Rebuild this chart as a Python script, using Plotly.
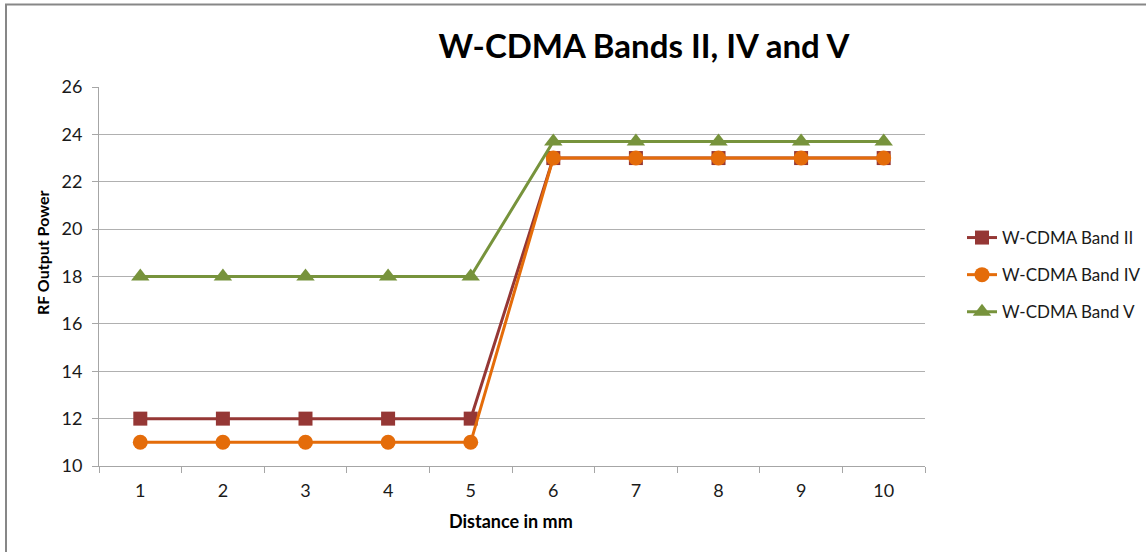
import plotly.graph_objects as go

distance = ["1", "2", "3", "4", "5", "6", "7", "8", "9", "10"]
band_ii = [12, 12, 12, 12, 12, 23, 23, 23, 23, 23]
band_iv = [11, 11, 11, 11, 11, 23, 23, 23, 23, 23]
band_v = [18, 18, 18, 18, 18, 23.7, 23.7, 23.7, 23.7, 23.7]
y_ticks = [10, 12, 14, 16, 18, 20, 22, 24, 26]

FONT = "Lato, Calibri, 'Open Sans', sans-serif"

fig = go.Figure()
fig.add_trace(go.Scatter(
    x=distance, y=band_ii, name="W-CDMA Band II", mode="lines+markers",
    line=dict(color="#953735", width=3),
    marker=dict(symbol="square", size=14, color="#953735"),
    legendgroup="a"))
fig.add_trace(go.Scatter(
    x=distance, y=band_iv, name="W-CDMA Band IV", mode="lines+markers",
    line=dict(color="#E46C0A", width=3),
    marker=dict(symbol="circle", size=15, color="#E46C0A"),
    legendgroup="b"))
fig.add_trace(go.Scatter(
    x=distance, y=band_v, name="W-CDMA Band V", mode="lines+markers",
    line=dict(color="#77933C", width=3),
    marker=dict(symbol="triangle-up", size=16, color="#77933C"),
    legendgroup="c"))

L, R, T, B = 99, 221, 87, 86
W, H = 1146, 552
pw, ph = W - L - R, H - T - B

def px_x(p):
    return (p - L) / pw

def px_y(p):
    return (H - B - p) / ph

fig.update_layout(
    width=W, height=H,
    margin=dict(l=L, r=R, t=T, b=B, autoexpand=False),
    paper_bgcolor="white", plot_bgcolor="white",
    font=dict(family=FONT, size=16, color="#1a1a1a"),
    title=dict(text="<b>W-CDMA Bands II, IV and V</b>", x=644 / W, xanchor="center",
               y=1 - 46 / H, yanchor="middle",
               font=dict(family=FONT, size=33, color="#000000")),
    showlegend=True,
    legend=dict(xref="container", yref="container",
                x=962 / W, xanchor="left", y=1 - 275 / H, yanchor="middle",
                font=dict(family=FONT, size=17, color="#1a1a1a"),
                tracegroupgap=12, traceorder="grouped", bgcolor="rgba(0,0,0,0)"),
    xaxis=dict(
        type="category", range=[-0.5, 9.5], tickson="boundaries", ticks="outside", ticklen=6,
        tickcolor="#a6a6a6", showline=True, linecolor="#a6a6a6", linewidth=1,
        showgrid=False, zeroline=False, ticklabelstandoff=8,
        tickfont=dict(family=FONT, size=18, color="#1a1a1a"),
    ),
    yaxis=dict(
        range=[10, 26], tickvals=y_ticks, ticks="outside", ticklen=6,
        tickcolor="#a6a6a6", showline=True, linecolor="#a6a6a6", linewidth=1,
        showgrid=True, gridcolor="#b0b0b0", gridwidth=1, zeroline=False,
        ticklabelstandoff=6,
        tickfont=dict(family=FONT, size=18, color="#1a1a1a"),
    ),
    annotations=[
        dict(text="<b>Distance in mm</b>", xref="paper", yref="paper",
             x=px_x(511), y=px_y(521), xanchor="center", yanchor="middle", showarrow=False,
             font=dict(family=FONT, size=18, color="#000000")),
        dict(text="<b>RF Output Power</b>", xref="paper", yref="paper", textangle=-90,
             x=px_x(43), y=px_y(253), xanchor="center", yanchor="middle", showarrow=False,
             font=dict(family=FONT, size=16, color="#000000")),
    ],
    shapes=[dict(type="rect", xref="paper", yref="paper",
                 x0=px_x(6), x1=px_x(W + 20),
                 y0=px_y(H + 20), y1=px_y(4.5),
                 line=dict(color="#878787", width=2), fillcolor="rgba(0,0,0,0)", layer="below")],
)

fig.write_html("out.html")
